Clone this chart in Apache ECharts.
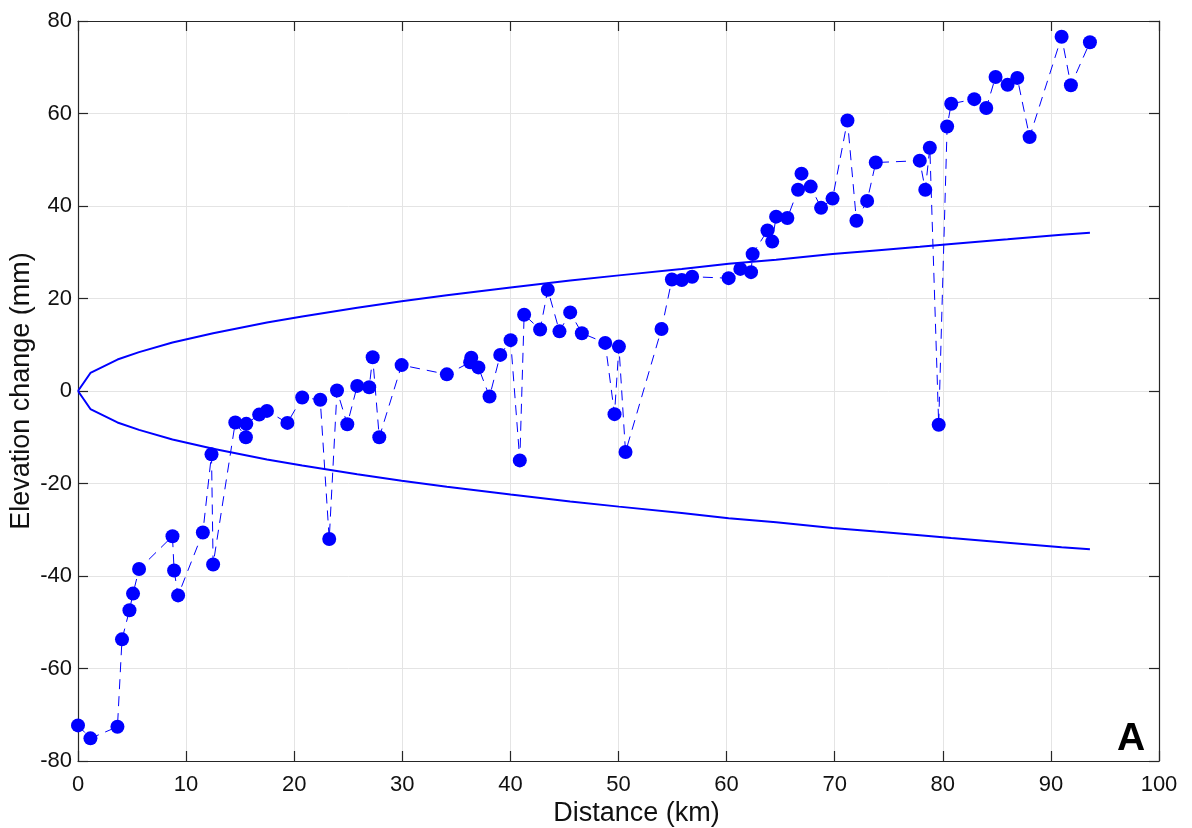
<!DOCTYPE html>
<html>
<head>
<meta charset="utf-8">
<title>Elevation change along the levelling line</title>
<script src="https://cdn.jsdelivr.net/npm/echarts@6/dist/echarts.min.js"></script>
<style>
  html, body { margin: 0; padding: 0; background: #ffffff; }
  #chart { width: 1192px; height: 828px; }
</style>
</head>
<body>
<div id="chart"></div>
<script>
// Benchmark distances along the line (km) and measured elevation change (mm)
const distanceKm = [
  0.0, 1.15, 3.65, 4.07, 4.76, 5.09, 5.65, 8.74, 8.89, 9.26,
  11.55, 12.35, 12.5, 14.55, 15.53, 15.57, 16.76, 17.48, 19.37, 20.74,
  22.41, 23.24, 23.96, 24.91, 25.83, 26.94, 27.26, 27.87, 29.94, 34.12,
  36.28, 36.38, 37.04, 38.07, 39.06, 40.02, 40.87, 41.27, 42.75, 43.46,
  44.54, 45.53, 46.61, 48.77, 49.63, 50.04, 50.65, 53.98, 54.94, 55.85,
  56.81, 60.19, 61.27, 62.26, 62.41, 63.78, 64.22, 64.58, 65.62, 66.61,
  66.93, 67.78, 68.74, 69.8, 71.18, 72.01, 73.0, 73.8, 77.87, 78.38,
  78.8, 79.62, 80.4, 80.78, 82.91, 84.02, 84.88, 85.99, 86.89, 88.03,
  90.99, 91.85, 93.61
];
const elevationMm = [
  -72.3, -75.1, -72.6, -53.7, -47.4, -43.8, -38.5, -31.4, -38.8, -44.2,
  -30.6, -13.7, -37.5, -6.8, -10.0, -7.1, -5.1, -4.3, -6.9, -1.4,
  -1.9, -32.0, 0.1, -7.2, 1.1, 0.8, 7.3, -10.0, 5.6, 3.6,
  6.2, 7.2, 5.1, -1.2, 7.8, 11.0, -15.0, 16.5, 13.3, 21.9,
  12.9, 17.0, 12.5, 10.4, -5.0, 9.6, -13.2, 13.4, 24.1, 24.0,
  24.7, 24.4, 26.4, 25.7, 29.6, 34.7, 32.3, 37.7, 37.4, 43.5,
  47.0, 44.2, 39.6, 41.6, 58.5, 36.8, 41.1, 49.4, 49.8, 43.5,
  52.6, -7.3, 57.2, 62.1, 63.1, 61.2, 67.9, 66.2, 67.7, 54.9,
  76.6, 66.1, 75.4
];

// Tolerance envelope (mm) at selected distances (km)
const envDistanceKm = [
  0, 1.15, 3.65, 5.65, 8.74, 12.5, 17.48, 20.74, 25.83, 29.94,
  34.12, 40.02, 45.53, 50.04, 55.85, 60.19, 64.58, 69.8, 73.8, 77.87,
  80.78, 85.99, 90.99, 93.61
];
const envUpperMm = [
  0, 3.9, 6.8, 8.4, 10.5, 12.5, 14.8, 16.1, 18.0, 19.4,
  20.7, 22.4, 23.9, 25.0, 26.4, 27.5, 28.4, 29.6, 30.4, 31.2,
  31.8, 32.8, 33.8, 34.2
];
const envLowerMm = [
  0, -3.9, -6.8, -8.4, -10.5, -12.5, -14.8, -16.1, -18.0, -19.4,
  -20.7, -22.4, -23.9, -25.0, -26.4, -27.5, -28.4, -29.6, -30.4, -31.2,
  -31.8, -32.8, -33.8, -34.2
];

// Axis ranges and tick spacing
const xRange = [0, 100];
const xStep = 10;
const yRange = [-80, 80];
const yStep = 20;

const pairs = (xs, ys) => xs.map((x, i) => [x, ys[i]]);

const FONT = '"Liberation Sans", Helvetica, Arial, sans-serif';
const AXIS_COLOR = '#262626';
const TEXT_COLOR = '#111111';
const GRID_COLOR = '#e4e4e4';
const BLUE = '#0000ff';

const baseAxis = (min, max, step) => ({
  type: 'value',
  min: min,
  max: max,
  interval: step,
  axisLine: { show: true, onZero: false, lineStyle: { color: AXIS_COLOR, width: 1.2 } },
  axisTick: { show: true, inside: true, length: 10, lineStyle: { color: AXIS_COLOR, width: 1.2 } },
  splitLine: { show: false },
  axisLabel: { show: false }
});

const chart = echarts.init(document.getElementById('chart'), null, { renderer: 'canvas' });

chart.setOption({
  animation: false,
  backgroundColor: '#ffffff',
  textStyle: { fontFamily: FONT },
  grid: {
    left: 78, right: 33, top: 21, bottom: 67,
    containLabel: false,
    outerBoundsMode: 'none'
  },
  xAxis: [
    Object.assign(baseAxis(xRange[0], xRange[1], xStep), {
      position: 'bottom',
      splitLine: { show: true, lineStyle: { color: GRID_COLOR, width: 1 } },
      axisLabel: { show: true, color: TEXT_COLOR, fontSize: 22, fontFamily: FONT, margin: 13 },
      name: 'Distance (km)',
      nameLocation: 'middle',
      nameGap: 39,
      nameMoveOverlap: false,
      nameTextStyle: { color: TEXT_COLOR, fontSize: 27, fontFamily: FONT, padding: [0, 0, 0, 36] }
    }),
    Object.assign(baseAxis(xRange[0], xRange[1], xStep), { position: 'top' })
  ],
  yAxis: [
    Object.assign(baseAxis(yRange[0], yRange[1], yStep), {
      position: 'left',
      splitLine: { show: true, lineStyle: { color: GRID_COLOR, width: 1 } },
      axisLabel: { show: true, color: TEXT_COLOR, fontSize: 22, fontFamily: FONT, margin: 6 },
      name: 'Elevation change (mm)',
      nameLocation: 'middle',
      nameGap: 43,
      nameMoveOverlap: false,
      nameTextStyle: { color: TEXT_COLOR, fontSize: 27, fontFamily: FONT }
    }),
    Object.assign(baseAxis(yRange[0], yRange[1], yStep), { position: 'right' })
  ],
  series: [
    {
      name: 'Tolerance (upper)',
      type: 'line',
      data: pairs(envDistanceKm, envUpperMm),
      showSymbol: false,
      symbol: 'none',
      lineStyle: { color: BLUE, width: 2 },
      z: 2
    },
    {
      name: 'Tolerance (lower)',
      type: 'line',
      data: pairs(envDistanceKm, envLowerMm),
      showSymbol: false,
      symbol: 'none',
      lineStyle: { color: BLUE, width: 2 },
      z: 2
    },
    {
      name: 'Elevation change',
      type: 'line',
      data: pairs(distanceKm, elevationMm),
      symbol: 'circle',
      symbolSize: 14,
      showAllSymbol: true,
      itemStyle: { color: BLUE, borderWidth: 0 },
      lineStyle: { color: BLUE, width: 1, type: [10, 7] },
      z: 3
    }
  ],
  graphic: [
    {
      type: 'text',
      left: 1117,
      top: 720,
      style: {
        text: 'A',
        fill: '#000000',
        font: 'bold 39px ' + FONT
      },
      z: 10
    }
  ]
});
</script>
</body>
</html>
